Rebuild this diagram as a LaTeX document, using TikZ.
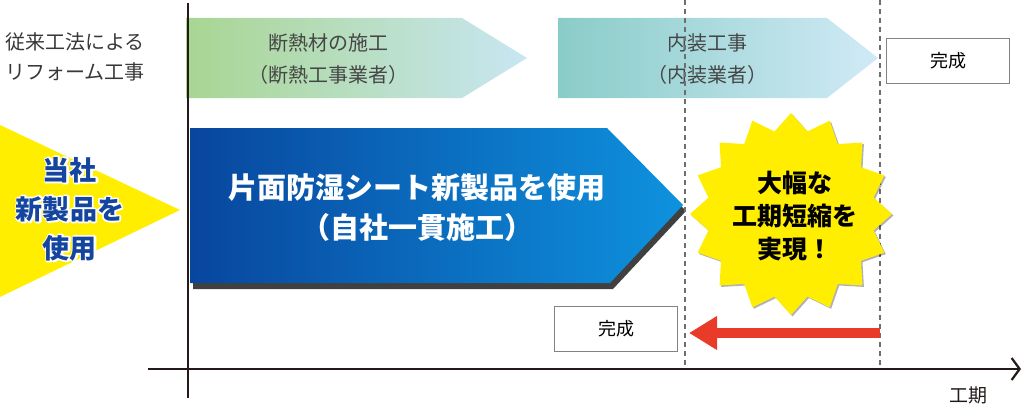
\documentclass[tikz,border=0pt]{standalone}
\usepackage{fontspec}
\setmainfont{Noto Sans CJK JP}
\usetikzlibrary{shapes.geometric,shadows,arrows.meta}
\definecolor{greenL}{RGB}{168,214,146}
\definecolor{greenR}{RGB}{200,230,242}
\definecolor{tealL}{RGB}{138,204,200}
\definecolor{tealR}{RGB}{208,234,246}
\definecolor{blueL}{RGB}{8,70,158}
\definecolor{blueR}{RGB}{14,146,222}
\definecolor{blueText}{RGB}{20,70,160}
\definecolor{sunYellow}{RGB}{255,238,0}
\definecolor{phaseText}{RGB}{70,70,70}
\definecolor{guideGray}{RGB}{110,110,110}
\definecolor{boxGray}{RGB}{130,130,130}
\definecolor{axisBlack}{RGB}{35,25,25}
\definecolor{shortRed}{RGB}{232,60,40}
% white stroked glyphs for the halo behind the blue words
\newcommand{\halostart}{\special{pdf:code q 1 Tr 3.4 w 1 j 1 J 1 1 1 RG}}
\newcommand{\haloend}{\special{pdf:code Q}}
\begin{document}
\begin{tikzpicture}[x=1pt,y=-1pt]
		\tikzstyle{phase}=[align=center,text=phaseText,font=\fontsize{20}{32}\selectfont]
		\tikzstyle{donebox}=[draw=boxGray,line width=1.2pt,minimum width=123pt,minimum height=45pt,font=\fontsize{18}{20}\selectfont]
		\tikzstyle{guide}=[draw=guideGray,line width=2pt,dash pattern=on 5pt off 4pt]
		\tikzstyle{axis}=[draw=axisBlack,line width=2pt]
		\tikzstyle{oursfont}=[align=center,font=\bfseries\fontsize{27}{39}\selectfont]

		\useasboundingbox (0,0) rectangle (1024,412);

		% conventional phases
		\shade [left color=greenL,right color=greenR] (186,18) -- (462,18) -- (527,58) -- (462,98) -- (186,98) -- cycle;
		\shade [left color=tealL,right color=tealR] (558,18) -- (827,18) -- (878,58) -- (827,98) -- (558,98) -- cycle;
		\node [phase] (insul) at (328,59) {断熱材の施工\\（断熱工事業者）};
		\node [phase] (interior) at (707,59) {内装工事\\（内装業者）};
		\node [align=center,text=phaseText!80!black,font=\fontsize{20}{30}\selectfont] (oldway) at (75,57) {従来工法による\\リフォーム工事};

		% new product
		\fill [sunYellow] (0,125) -- (180,210) -- (0,297) -- cycle;
		\node [oursfont,text=white] (oursHalo) at (70,209) {\halostart 当社\\新製品を\\使用\haloend};
		\node [oursfont,text=blueText] (ours) at (70,209) {当社\\新製品を\\使用};
		\shade [left color=blueL,right color=blueR,drop shadow={shadow xshift=3pt,shadow yshift=-6pt,opacity=0.75,fill=black}]
			(190,128) -- (607,128) -- (683,205) -- (610,283) -- (190,283) -- cycle;
		\node [align=center,text=white,font=\bfseries\fontsize{29}{40}\selectfont] (newway) at (417,208)
			{片面防湿シート新製品を使用\\（自社一貫施工）};

		% guides and axes
		\coordinate (g1top) at (685,0);
		\coordinate (g1bot) at (685,369);
		\coordinate (g2top) at (880,0);
		\coordinate (g2bot) at (880,369);
		\draw [guide] (g1top) -- (g1bot);
		\draw [guide] (g2top) -- (g2bot);
		\coordinate (ytop) at (188,3);
		\coordinate (ybot) at (188,398);
		\coordinate (xstart) at (148,369);
		\coordinate (xend) at (1021,369);
		\draw [axis] (ytop) -- (ybot);
		\draw [axis,-{Straight Barb[length=8pt,width=22pt,line width=2.2pt]}] (xstart) -- (xend);
		\node [font=\fontsize{19}{20}\selectfont,text=axisBlack] (term) at (968,395) {工期};

		% finish boxes
		\node [donebox] (doneOld) at (948,61) {完成};
		\node [donebox] (doneNew) at (616,329) {完成};

		% shortening
		\node [star,star points=16,star point ratio=1.2,minimum size=202pt,inner sep=0pt,fill=sunYellow,
			drop shadow={shadow xshift=1.5pt,shadow yshift=-1.5pt,opacity=0.3,fill=black}] (burst) at (791,214) {};
		\node [align=center,font=\bfseries\fontsize{25}{33}\selectfont,text=black] (gain) at (795,216) {大幅な\\工期短縮を\\実現！};
		\coordinate (redstart) at (880,333);
		\coordinate (redend) at (689,333);
		\draw [shortRed,line width=10pt,-{Triangle[length=28pt,width=32pt]}] (redstart) -- (redend);

  \end{tikzpicture}
\end{document}
